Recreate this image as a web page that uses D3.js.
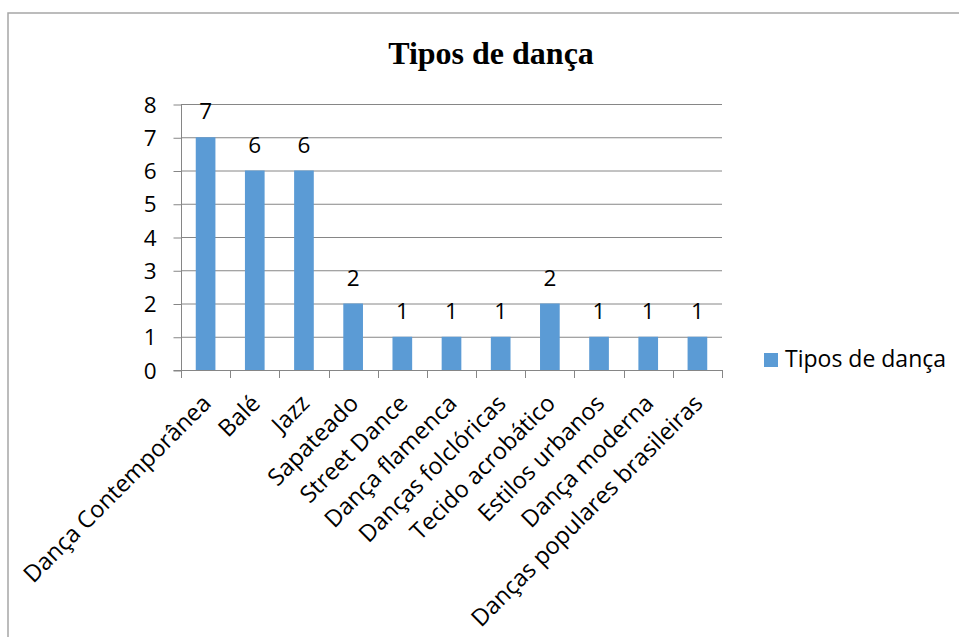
<!DOCTYPE html>
<html>
<head>
<meta charset="utf-8">
<script src="https://cdn.jsdelivr.net/npm/d3@7"></script>
<style>
  html, body { margin: 0; padding: 0; background: #fff; }
  svg { display: block; }
  text { font-family: "Open Sans", "DejaVu Sans", sans-serif; fill: #000; }
</style>
</head>
<body>
<svg id="chart" width="959" height="637"></svg>
<script>
// Dance styles and how many times each was chosen
const categories = [
  "Dança Contemporânea", "Balé", "Jazz", "Sapateado", "Street Dance",
  "Dança flamenca", "Danças folclóricas", "Tecido acrobático",
  "Estilos urbanos", "Dança moderna", "Danças populares brasileiras"
];
const values = [7, 6, 6, 2, 1, 1, 1, 2, 1, 1, 1];
const yTicks = [0, 1, 2, 3, 4, 5, 6, 7, 8];
const seriesName = "Tipos de dança";
const chartTitle = "Tipos de dança";

const svg = d3.select("#chart");
const barColor = "#5b9bd5";
const gridColor = "#868686";
const labelSize = "22.5px";

// Plot area bounds
const plotLeft = 181, plotRight = 722, plotTop = 104, plotBottom = 370;

const x = d3.scaleBand()
  .domain(categories)
  .range([plotLeft, plotRight])
  .paddingInner(0.6)
  .paddingOuter(0.3);

const y = d3.scaleLinear().domain([0, 8]).range([plotBottom, plotTop]);

// Outer chart frame
svg.append("rect")
  .attr("x", 8).attr("y", 13)
  .attr("width", 1000).attr("height", 700)
  .attr("fill", "none")
  .attr("stroke", "#a6a6a6")
  .attr("stroke-width", 1.5);

// Title
svg.append("text")
  .attr("x", 491).attr("y", 64)
  .attr("text-anchor", "middle")
  .style("font-family", "'Liberation Serif', 'Times New Roman', serif")
  .style("font-weight", "bold")
  .style("font-size", "32px")
  .text(chartTitle);

// Horizontal gridlines
svg.append("g")
  .selectAll("line")
  .data(yTicks.filter(d => d > 0))
  .join("line")
  .attr("x1", plotLeft).attr("x2", plotRight)
  .attr("y1", d => y(d) + 0.5).attr("y2", d => y(d) + 0.5)
  .attr("stroke", gridColor)
  .attr("stroke-width", 1);

// Y axis
const yAxis = svg.append("g")
  .attr("transform", `translate(${plotLeft + 0.5},0)`)
  .call(d3.axisLeft(y).tickValues(yTicks).tickSize(8).tickPadding(17).tickFormat(d3.format("d")));
yAxis.select(".domain").attr("stroke", gridColor).attr("d", `M-8,${plotBottom + 0.5}H0V${plotTop}`);
yAxis.selectAll(".tick line").attr("stroke", gridColor).attr("transform", "translate(0,0.5)");
yAxis.selectAll(".tick text")
  .style("font-size", labelSize)
  .attr("fill", "#000")
  .attr("dy", "0.36em");

// X axis baseline with tick marks at category boundaries
const step = x.step();
const boundaries = d3.range(categories.length + 1).map(i => plotLeft + i * step);
const xAxis = svg.append("g");
xAxis.append("line")
  .attr("x1", plotLeft).attr("x2", plotRight)
  .attr("y1", plotBottom + 0.5).attr("y2", plotBottom + 0.5)
  .attr("stroke", gridColor);
xAxis.selectAll("line.tick")
  .data(boundaries)
  .join("line")
  .attr("class", "tick")
  .attr("x1", d => Math.round(d) + 0.5).attr("x2", d => Math.round(d) + 0.5)
  .attr("y1", plotBottom).attr("y2", plotBottom + 8)
  .attr("stroke", gridColor);

// Bars
svg.append("g")
  .selectAll("rect")
  .data(values)
  .join("rect")
  .attr("x", (d, i) => x(categories[i]))
  .attr("y", d => y(d))
  .attr("width", x.bandwidth())
  .attr("height", d => plotBottom - y(d))
  .attr("fill", barColor);

// Value labels above bars
svg.append("g")
  .selectAll("text")
  .data(values)
  .join("text")
  .attr("x", (d, i) => x(categories[i]) + x.bandwidth() / 2)
  .attr("y", d => y(d) - 18)
  .attr("text-anchor", "middle")
  .style("font-size", labelSize)
  .text(d => d);

// Category labels, rotated 45 degrees
svg.append("g")
  .selectAll("text")
  .data(categories)
  .join("text")
  .attr("transform", d => `translate(${x(d) + x.bandwidth() / 2 + 1},399) rotate(-45)`)
  .attr("text-anchor", "end")
  .attr("dy", "0.35em")
  .style("font-size", "23.5px")
  .text(d => d);

// Legend
const legend = svg.append("g").attr("transform", "translate(764,353)");
legend.append("rect")
  .attr("width", 14).attr("height", 14)
  .attr("fill", barColor);
legend.append("text")
  .attr("x", 21).attr("y", 14)
  .style("font-size", "23px")
  .text(seriesName);
</script>
</body>
</html>
